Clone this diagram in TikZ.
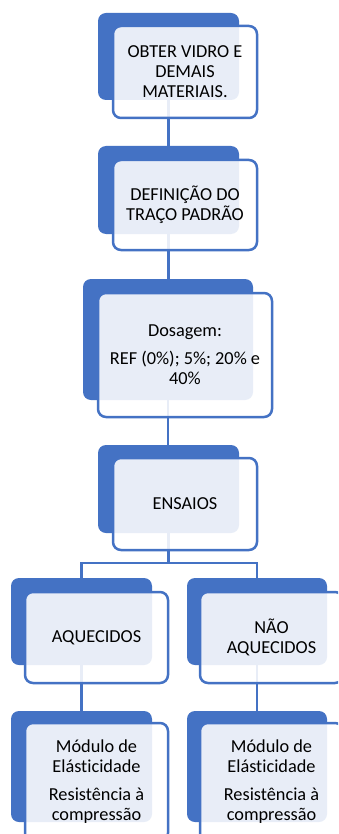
\documentclass[tikz,border=0pt]{standalone}
\usepackage{fontspec}
\setmainfont{Carlito}[Ligatures=NoCommon]
\definecolor{accent}{HTML}{4472C4}
\tikzset{
  back/.style={fill=accent, draw=none, rounded corners=8pt, inner sep=0pt},
  front/.style={draw=accent, line width=2.5pt, fill=white, fill opacity=0.88,
    text opacity=1, text=black, rounded corners=8pt, inner sep=0pt, align=center,
    font=\fontsize{18.3}{20}\selectfont},
  link/.style={draw=accent, line width=2.4pt}
}
\begin{document}
\begin{tikzpicture}[x=1pt,y=-1pt]
\clip (0,0) rectangle (338,834);
\fill[white] (0,0) rectangle (338,834);

% solid accent plates behind each step
\node[back, minimum width=141pt, minimum height=87pt]  (b1) at (168.5,56.5) {};
\node[back, minimum width=141pt, minimum height=88pt]  (b2) at (168.5,190) {};
\node[back, minimum width=170pt, minimum height=121pt] (b3) at (168,339.5) {};
\node[back, minimum width=141pt, minimum height=88pt]  (b4) at (168.5,489) {};
\node[back, minimum width=141pt, minimum height=87pt]  (b5) at (81.5,621.5) {};
\node[back, minimum width=140pt, minimum height=87pt]  (b6) at (257,621.5) {};
\node[back, minimum width=141pt, minimum height=111pt] (b7) at (81.5,766.5) {};
\node[back, minimum width=140pt, minimum height=111pt] (b8) at (257,766.5) {};

% connectors
\coordinate (split) at (168.5,563);
\draw[link] (b1.south) -- (b1.south |- b2.north);
\draw[link] (b2.south) -- (b2.south |- b3.north);
\draw[link] (b3.south) -- (b3.south |- b4.north);
\draw[link] (b4.south) -- (b4.south |- split);
\draw[link] (b5.north) -- (b5.north |- split) -- (b6.north |- split) -- (b6.north);
\draw[link] (b5.south) -- (b7.north);
\draw[link] (b6.south) -- (b8.north);

% text panels
\node[front, minimum width=144pt, minimum height=92pt]  (f1) at (185,72)
  {OBTER VIDRO E\\DEMAIS\\MATERIAIS.};
\node[front, minimum width=144pt, minimum height=90pt]  (f2) at (185,205)
  {DEFINIÇÃO DO\\TRAÇO PADRÃO};
\node[front, minimum width=174pt, minimum height=124pt] (f3) at (185,355)
  {Dosagem:\\[8pt]REF (0\%); 5\%; 20\% e\\40\%};
\node[front, minimum width=144pt, minimum height=92pt]  (f4) at (185,504)
  {ENSAIOS};
\node[front, minimum width=143pt, minimum height=91pt]  (f5) at (96.5,637.5)
  {AQUECIDOS};
\node[front, minimum width=143pt, minimum height=91pt]  (f6) at (271.5,637.5)
  {NÃO\\AQUECIDOS};
\node[front, minimum width=143pt, minimum height=118pt] (f7) at (96.5,782)
  {Módulo de\\Elásticidade\\[8pt]Resistência à\\compressão};
\node[front, minimum width=143pt, minimum height=118pt] (f8) at (271.5,782)
  {Módulo de\\Elásticidade\\[8pt]Resistência à\\compressão};
\end{tikzpicture}
\end{document}
